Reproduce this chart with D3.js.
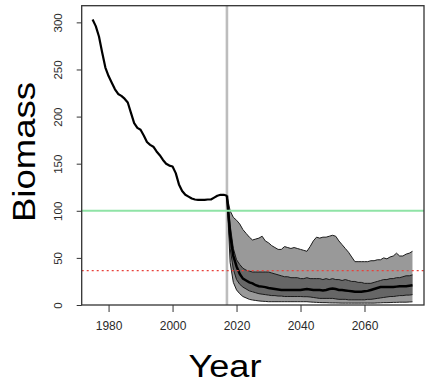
<!DOCTYPE html>
<html>
<head>
<meta charset="utf-8">
<script src="https://cdn.jsdelivr.net/npm/d3@7"></script>
<style>
  body { margin: 0; background: #fff; }
  svg { display: block; font-family: "Liberation Sans", Arial, sans-serif; }
</style>
</head>
<body>
<svg id="chart" width="436" height="382"></svg>
<script>
// historic biomass, one value per year from 1975
const histStart = 1975;
const histBiomass = [303, 296, 285, 268, 252, 243, 236, 229, 224, 222,
  219, 215, 204, 193, 188, 186, 180, 173, 170, 168,
  163, 159, 154, 150, 148, 147, 140, 128, 121, 117,
  115, 113, 112, 111.5, 111.5, 111.5, 112, 112, 114, 116,
  117, 117, 116];

// projections, one value per year from 2017
const projStart = 2017;
const projHi = [116, 100, 93, 90, 86, 80, 76, 72, 69, 70,
  71, 73, 68, 66, 63, 61, 59, 59, 62, 61,
  60, 61, 60, 59, 58, 57, 62, 68, 72, 71,
  72, 72, 73, 74, 73, 68, 64, 60, 56, 51,
  46, 46, 46, 46, 46, 47, 47, 48, 48, 50,
  49, 51, 52, 55, 52, 52, 54, 55, 57];
const projQ75 = [116, 85, 60, 48, 43, 39, 37, 36, 35, 35,
  35, 35, 35, 35, 34, 33, 32, 31, 30, 30,
  29, 29, 29, 28, 28, 29, 28, 28, 28, 28,
  27, 28, 27, 28, 27, 27, 26, 27, 26, 25,
  25, 24, 24, 23, 23, 23, 24, 25, 26, 27,
  27, 28, 28, 29, 29, 30, 31, 31, 32];
const projMed = [116, 75, 52, 41, 33, 28, 26, 24, 23, 21,
  20, 19.5, 19, 18, 17.5, 17, 16.5, 16, 16, 16,
  16, 16, 16, 16, 16.5, 17, 16.5, 16, 16, 16,
  15.5, 16, 17, 17.5, 17, 16, 16, 15.5, 15, 14.5,
  14, 14, 14, 14.5, 15, 16, 17, 18, 19, 19,
  19, 19, 19, 19.5, 20, 20, 20, 20.5, 21];
const projQ25 = [116, 60, 38, 27, 22, 19, 17, 15, 14, 13,
  12, 11.5, 11, 10.5, 10, 10, 9.5, 9.5, 9, 9,
  9, 9, 9, 9, 8.8, 8.8, 8.5, 8, 7.5, 7,
  7, 7, 7, 7, 6.5, 6, 6, 6, 5.5, 5.5,
  5.5, 5.5, 5.5, 5.5, 6, 6, 6.5, 7, 7.5, 8,
  8.5, 9, 9, 9.5, 10, 10, 10.5, 10.5, 11];
const projLo = [116, 45, 24, 16, 12, 9, 7.5, 6, 5.3, 4.8,
  4.3, 4, 3.8, 3.5, 3.5, 3.5, 3.5, 3.5, 3.5, 3.5,
  3.5, 3.5, 3.5, 3.5, 3.5, 3.5, 3.2, 3, 2.8, 2.6,
  2.5, 2.5, 2.3, 2.2, 2.2, 2.1, 2, 2, 2, 2,
  2, 2, 2, 2, 2, 2, 2, 2.2, 2.3, 2.5,
  2.5, 2.6, 2.8, 2.8, 3, 3, 3, 3.2, 3.4];

const xTicks = [1980, 2000, 2020, 2040, 2060];
const yTicks = [0, 50, 100, 150, 200, 250, 300];
const currentYear = 2017;
const targetLevel = 100;
const limitLevel = 36.5;

const svg = d3.select('#chart');
const box = { left: 81.7, right: 424, top: 5.7, bottom: 305 };

const x = d3.scaleLinear().domain([1971.6, 2078.6]).range([box.left, box.right]);
const y = d3.scaleLinear().domain([0, 317.7]).range([box.bottom, box.top]);

const hist = histBiomass.map((v, i) => ({ year: histStart + i, v }));
const proj = projMed.map((v, i) => ({
  year: projStart + i, med: v,
  hi: projHi[i], q75: projQ75[i], q25: projQ25[i], lo: projLo[i]
}));

const plot = svg.append('g');

// vertical marker for the last assessed year (drawn behind the curves)
plot.append('line')
  .attr('x1', x(currentYear)).attr('x2', x(currentYear))
  .attr('y1', box.top).attr('y2', box.bottom)
  .attr('stroke', '#bdbdbd').attr('stroke-width', 2.6);

// outer band
plot.append('path')
  .datum(proj)
  .attr('fill', '#999999')
  .attr('d', d3.area().x(d => x(d.year)).y0(d => y(d.lo)).y1(d => y(d.hi)));

// inner band
plot.append('path')
  .datum(proj)
  .attr('fill', '#666666')
  .attr('d', d3.area().x(d => x(d.year)).y0(d => y(d.q25)).y1(d => y(d.q75)));

// band edges
['hi', 'q75', 'q25', 'lo'].forEach(k => {
  plot.append('path')
    .datum(proj)
    .attr('fill', 'none')
    .attr('stroke', '#1a1a1a')
    .attr('stroke-width', 1)
    .attr('d', d3.line().x(d => x(d.year)).y(d => y(d[k])));
});

// median projection
plot.append('path')
  .datum(proj)
  .attr('fill', 'none')
  .attr('stroke', '#000')
  .attr('stroke-width', 2.5)
  .attr('d', d3.line().x(d => x(d.year)).y(d => y(d.med)));

// historic
plot.append('path')
  .datum(hist)
  .attr('fill', 'none')
  .attr('stroke', '#000')
  .attr('stroke-width', 2.2)
  .attr('stroke-linejoin', 'round')
  .attr('d', d3.line().x(d => x(d.year)).y(d => y(d.v)));

// reference levels
plot.append('line')
  .attr('x1', box.left).attr('x2', box.right)
  .attr('y1', y(targetLevel)).attr('y2', y(targetLevel))
  .attr('stroke', '#8fe3a6').attr('stroke-width', 2);

plot.append('line')
  .attr('x1', box.left).attr('x2', box.right)
  .attr('y1', y(limitLevel)).attr('y2', y(limitLevel))
  .attr('stroke', '#e8413a').attr('stroke-width', 1.3)
  .attr('stroke-dasharray', '2,3');

// frame
svg.append('rect')
  .attr('x', box.left).attr('y', box.top)
  .attr('width', box.right - box.left).attr('height', box.bottom - box.top)
  .attr('fill', 'none').attr('stroke', '#333').attr('stroke-width', 1.3);

// axes
const xAxis = svg.append('g')
  .attr('transform', `translate(0,${box.bottom})`)
  .call(d3.axisBottom(x).tickValues(xTicks).tickFormat(d3.format('d')).tickSize(7).tickPadding(9));
xAxis.select('.domain').remove();
xAxis.selectAll('text').attr('font-size', 12).attr('fill', '#2a2a2a')
  .attr('font-family', '"Liberation Sans", Arial, sans-serif');
xAxis.selectAll('line').attr('stroke', '#333');

const yAxis = svg.append('g')
  .attr('transform', `translate(${box.left},0)`)
  .call(d3.axisLeft(y).tickValues(yTicks).tickSize(5));
yAxis.select('.domain').remove();
yAxis.selectAll('line').attr('stroke', '#333');
yAxis.selectAll('text')
  .attr('font-size', 11.5).attr('fill', '#2a2a2a')
  .attr('font-family', '"Liberation Sans", Arial, sans-serif')
  .attr('x', null).attr('dy', null)
  .attr('text-anchor', 'middle')
  .attr('transform', 'translate(-20,0) rotate(-90)');

// titles
svg.append('text')
  .attr('x', 225).attr('y', 376.5)
  .attr('text-anchor', 'middle')
  .attr('font-size', 31)
  .attr('textLength', 73).attr('lengthAdjust', 'spacingAndGlyphs')
  .text('Year');

svg.append('text')
  .attr('transform', 'translate(35,152) rotate(-90)')
  .attr('text-anchor', 'middle')
  .attr('font-size', 31)
  .attr('textLength', 140).attr('lengthAdjust', 'spacingAndGlyphs')
  .text('Biomass');
</script>
</body>
</html>
